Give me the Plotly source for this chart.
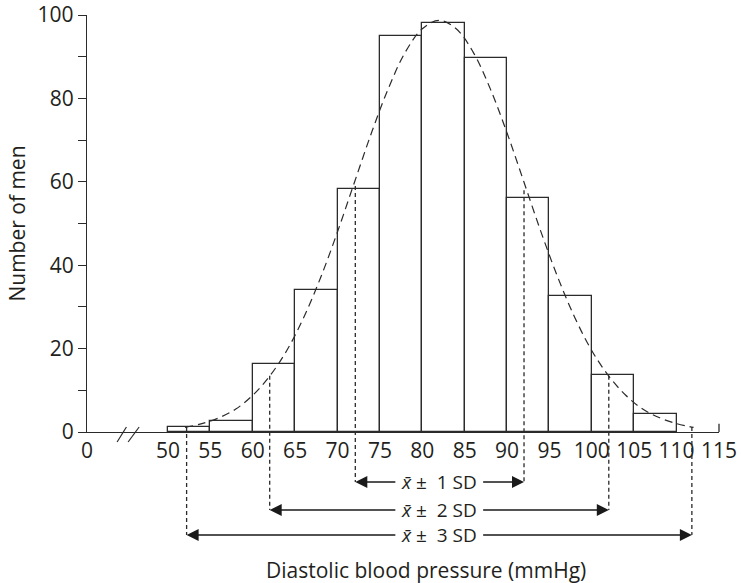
import plotly.graph_objects as go

# ---------------- data ----------------
bin_left = [50, 55, 60, 65, 70, 75, 80, 85, 90, 95, 100, 105]
counts = [1.3, 2.7, 16.3, 34.0, 58.3, 95.0, 98.0, 89.6, 56.0, 32.6, 13.7, 4.3]
BIN_WIDTH = 5

curve_x = [52, 54, 56, 58, 60, 62, 64, 66, 68, 70, 72, 74, 76, 78, 80, 82,
           84, 86, 88, 90, 92, 94, 96, 98, 100, 102, 104, 106, 108, 110, 112]
curve_y = [1.1, 2.0, 3.4, 5.5, 8.8, 13.4, 19.5, 27.4, 37.0, 48.0, 59.9, 71.7,
           82.4, 91.1, 96.7, 98.7, 96.7, 91.1, 82.4, 71.7, 59.9, 48.0, 37.0,
           27.4, 19.5, 13.4, 8.8, 5.5, 3.4, 2.0, 1.1]

x_tick_vals = [50, 55, 60, 65, 70, 75, 80, 85, 90, 95, 100, 105, 110, 115]
x_tick_text = ["50", "55", "60", "65", "70", "75", "80", "85", "90", "95",
               "100", "105", "110", "115"]
y_tick_vals = [0, 20, 40, 60, 80, 100]

MEAN = 82
sd_multiples = ["1", "2", "3"]
sd_low = [72.1, 62.0, 52.2]
sd_high = [92.0, 102.0, 111.8]
sd_top_low = [59.0, 13.5, 1.2]
sd_top_high = [58.0, 13.5, 1.2]
sd_arrow_level = [-12.0, -18.7, -24.7]

X_TITLE = "Diastolic blood pressure (mmHg)"
Y_TITLE = "Number of men"

# ---------------- layout constants ----------------
AXIS_ZERO_POS = 40.45   # where the "0" of the broken axis sits
X_MAX = 115
Y_MIN, Y_MAX = 0, 100
LABEL_HALF = 5.0        # half-width of the "x̄ ± k SD" label, in axis units
INK = "#231f20"
LINE = "#2b2b2b"
FONT = "Open Sans"
NB = "\u00a0"


def py(v):
    """data y -> paper y (the y axis fills the whole paper height)."""
    return (v - Y_MIN) / (Y_MAX - Y_MIN)


fig = go.Figure()

fig.add_trace(go.Bar(
    x=[b + BIN_WIDTH / 2 for b in bin_left], y=counts, width=BIN_WIDTH,
    marker=dict(color="white", line=dict(color=LINE, width=1.3)),
    hoverinfo="skip", showlegend=False))

fig.add_trace(go.Scatter(
    x=curve_x, y=curve_y, mode="lines", line_shape="spline",
    line=dict(color=LINE, width=1.2, dash="8px,5px"),
    hoverinfo="skip", showlegend=False))

shapes = []
annotations = []
for k, lo, hi, tlo, thi, lev in zip(sd_multiples, sd_low, sd_high,
                                    sd_top_low, sd_top_high, sd_arrow_level):
    for xv, top in ((lo, tlo), (hi, thi)):
        shapes.append(dict(type="line", xref="x", yref="paper",
                           x0=xv, x1=xv, y0=py(top), y1=py(lev),
                           line=dict(color=LINE, width=1.3, dash="4px,3px"),
                           layer="above"))
    for head, tail in ((lo, MEAN - LABEL_HALF), (hi, MEAN + LABEL_HALF)):
        annotations.append(dict(
            xref="x", yref="paper", x=head, y=py(lev),
            axref="x", ayref="pixel", ax=tail, ay=0, text="",
            showarrow=True, arrowhead=2, arrowsize=1.5, arrowwidth=1.6,
            arrowcolor="#1a1a1a", standoff=0))
    annotations.append(dict(
        xref="x", yref="paper", x=MEAN, y=py(lev),
        text="<i>x\u0304</i>" + NB + "\u00b1" + NB * 2 + k + NB + "SD",
        showarrow=False, height=20, borderpad=0,
        font=dict(family=FONT, size=19, color=INK),
        xanchor="center", yanchor="middle"))

# x axis title (sits slightly right of centre in the original)
annotations.append(dict(
    xref="paper", yref="paper", x=0.536, y=py(-33.1),
    text=X_TITLE, showarrow=False,
    font=dict(family=FONT, size=21, color=INK),
    xanchor="center", yanchor="middle"))

# axis break marks "//"
for x0, x1 in ((44.0, 45.1), (45.3, 46.6)):
    shapes.append(dict(type="line", xref="x", yref="paper",
                       x0=x0, x1=x1, y0=py(-2.4), y1=py(1.2),
                       line=dict(color=LINE, width=1.2)))
# small upright tick closing the x axis at 115
shapes.append(dict(type="line", xref="paper", yref="paper",
                   x0=1, x1=1, y0=0, y1=py(2),
                   line=dict(color=LINE, width=1.3)))

fig.update_layout(
    width=741, height=583,
    margin=dict(l=87, r=22, t=15, b=151),
    plot_bgcolor="white", paper_bgcolor="white",
    font=dict(family=FONT, color=INK, size=21),
    bargap=0, shapes=shapes, annotations=annotations,
    xaxis=dict(
        range=[AXIS_ZERO_POS, X_MAX],
        tickvals=[AXIS_ZERO_POS] + x_tick_vals,
        ticktext=["0"] + x_tick_text,
        ticks="", showgrid=False, zeroline=False,
        showline=True, linecolor=LINE, linewidth=1.3,
        tickfont=dict(size=21, color=INK),
        automargin=False),
    yaxis=dict(
        range=[Y_MIN, Y_MAX], tickvals=y_tick_vals,
        ticks="outside", ticklen=8, tickwidth=1.3, tickcolor=LINE,
        minor=dict(dtick=10, ticks="outside", ticklen=8, tickwidth=1.3,
                   tickcolor=LINE, showgrid=False),
        showgrid=False, zeroline=False,
        showline=True, linecolor=LINE, linewidth=1.3,
        tickfont=dict(size=21, color=INK),
        title=dict(text=Y_TITLE, font=dict(size=21, color=INK),
                   standoff=6),
        automargin=False),
)

fig.write_html("out.html")
